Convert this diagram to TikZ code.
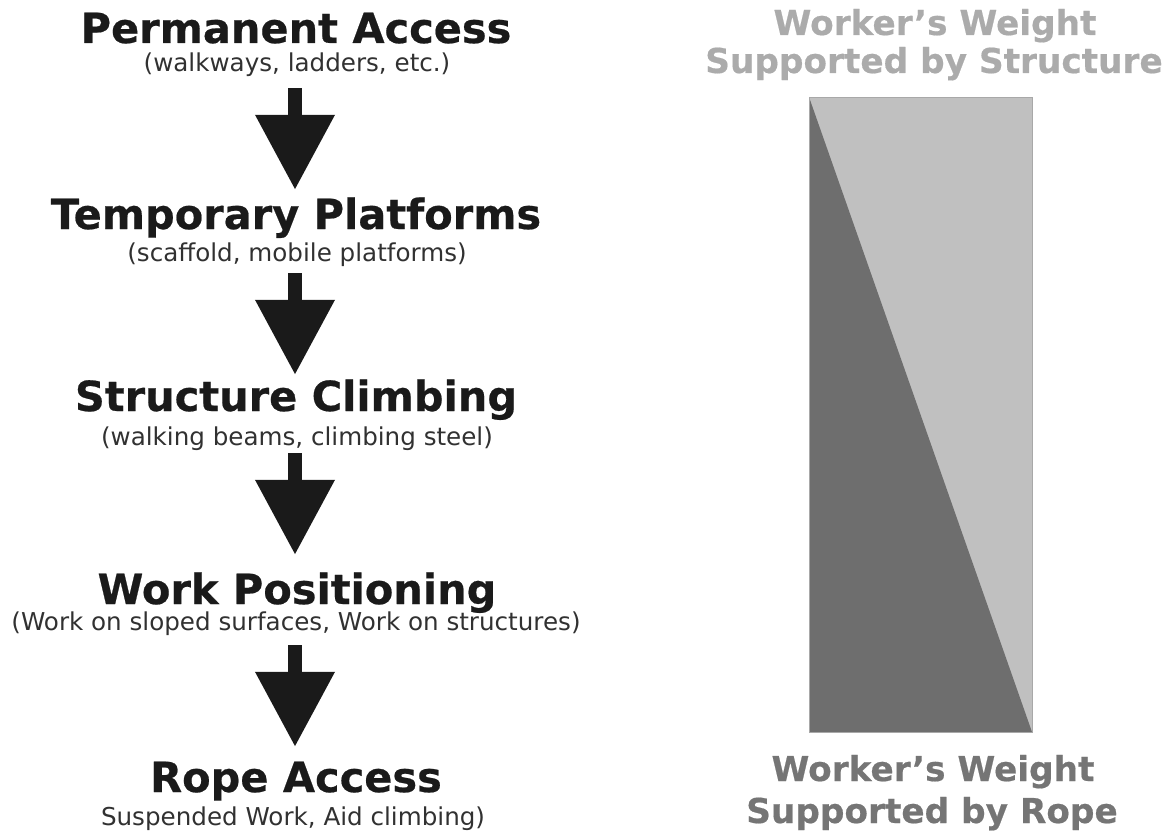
\documentclass[tikz,border=0pt]{standalone}
\usepackage{fontspec}
\setmainfont{DejaVu Sans}
\newfontfamily\heavyfont{DejaVu Sans}[FakeBold=0.5]
\usetikzlibrary{arrows.meta}
\definecolor{ink}{HTML}{1A1A1A}
\definecolor{lightfill}{HTML}{C0C0C0}
\definecolor{darkfill}{HTML}{6E6E6E}
\definecolor{edgegray}{HTML}{A8A8A8}
\definecolor{lighttext}{HTML}{ABABAB}
\definecolor{darktext}{HTML}{757575}
\tikzset{
  heading/.style={anchor=base, inner sep=0pt, text height=30pt, text depth=4pt, text=ink,
    font=\fontsize{41.5}{45}\heavyfont\bfseries},
  subline/.style={anchor=base, inner sep=0pt, text height=16pt, text depth=6pt, text=ink!90,
    font=\fontsize{24.6}{28}\selectfont},
  sidelabel/.style={anchor=base, inner sep=0pt, font=\fontsize{34.3}{38}\heavyfont\bfseries},
  blockarrow/.style={draw=ink, line width=14pt, -{Triangle[width=76pt,length=75pt]}}
}
\begin{document}
\begin{tikzpicture}[x=1pt,y=-1pt]
\useasboundingbox (0,0) rectangle (1169,832);
% left column
\node[heading] (h1) at (296,43) {Permanent Access};
\node[subline] (s1) at (297,72) {(walkways, ladders, etc.)};
\node[heading] (h2) at (296,229) {Temporary Platforms};
\node[subline] (s2) at (297,261) {(scaffold, mobile platforms)};
\node[heading] (h3) at (296,411) {Structure Climbing};
\node[subline] (s3) at (297,445) {(walking beams, climbing steel)};
\node[heading] (h4) at (297,604) {Work Positioning};
\node[subline] (s4) at (296,630) {(Work on sloped surfaces, Work on structures)};
\node[heading] (h5) at (296,792) {Rope Access};
\node[subline] (s5) at (293,825) {Suspended Work, Aid climbing)};
\draw[blockarrow, shorten <=10pt, shorten >=9pt] (s1.south -| 295,0) -- (h2.north -| 295,0);
\draw[blockarrow, shorten <=6pt, shorten >=6pt] (s2.south -| 295,0) -- (h3.north -| 295,0);
\draw[blockarrow, shorten <=2pt, shorten >=19pt] (s3.south -| 295,0) -- (h4.north -| 295,0);
\draw[blockarrow, shorten <=9pt, shorten >=15pt] (s4.south -| 295,0) -- (h5.north -| 295,0);
% right column
\node[sidelabel, text=lighttext] (t1) at (935,35) {Worker’s Weight};
\node[sidelabel, text=lighttext] (t2) at (934,73) {Supported by Structure};
\fill[lightfill] (809,97) rectangle (1032,732);
\fill[darkfill] (809,97) -- (1032,732) -- (809,732) -- cycle;
\draw[edgegray, line width=0.8pt] (809,97) rectangle (1032,732);
\node[sidelabel, text=darktext] (b1) at (933,781) {Worker’s Weight};
\node[sidelabel, text=darktext] (b2) at (932,823) {Supported by Rope};
\end{tikzpicture}
\end{document}
